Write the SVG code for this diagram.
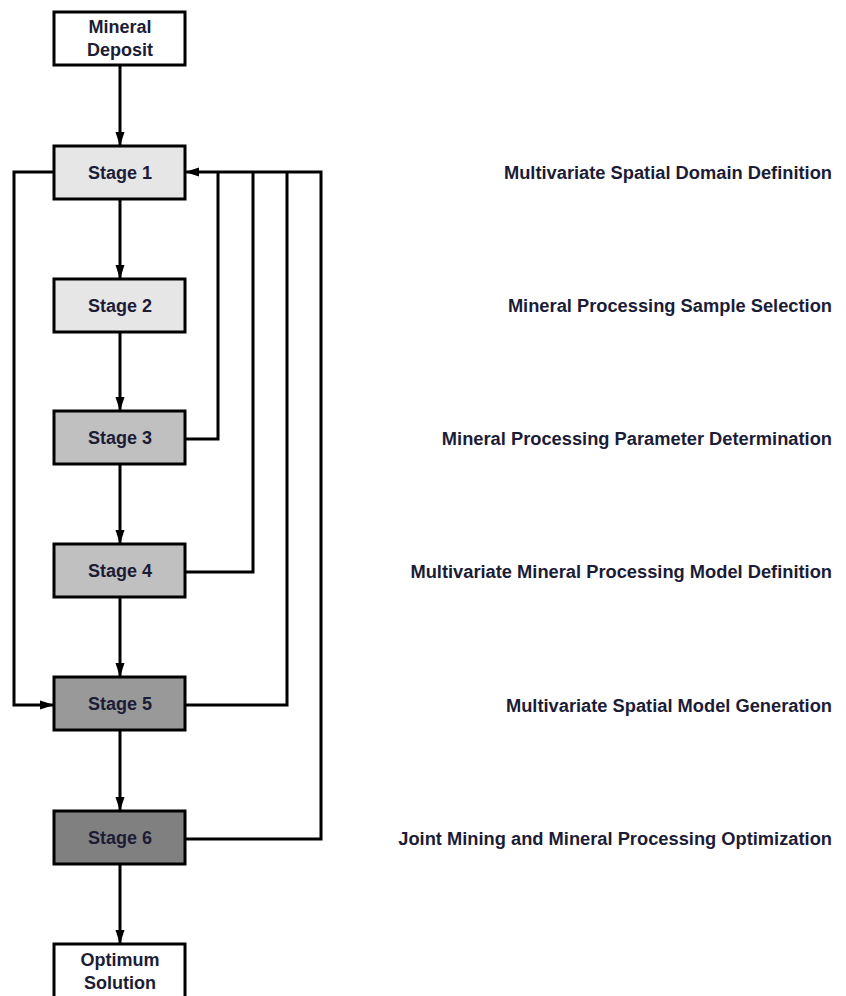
<svg xmlns="http://www.w3.org/2000/svg" width="846" height="996" viewBox="0 0 846 996">
<style>
.box{stroke:#000;stroke-width:3}
.t{font-family:"Liberation Sans",Arial,sans-serif;font-weight:bold;font-size:18px;fill:#1c1c36;text-anchor:middle}
.lbl{font-family:"Liberation Sans",Arial,sans-serif;font-weight:bold;font-size:18.3px;fill:#1c1c36;text-anchor:end}
.c{fill:none;stroke:#000;stroke-width:3}
</style>
<defs>
<marker id="ah" markerUnits="userSpaceOnUse" markerWidth="14" markerHeight="10" refX="13" refY="5" orient="auto">
<path d="M0,0.5 L14,5 L0,9.5 z" fill="#000"/>
</marker>
</defs>
<rect width="846" height="996" fill="#fff"/>
<g id="connectors">
<path class="c" d="M120,65 V145" marker-end="url(#ah)"/>
<path class="c" d="M120,199 V278" marker-end="url(#ah)"/>
<path class="c" d="M120,332 V410" marker-end="url(#ah)"/>
<path class="c" d="M120,464 V543" marker-end="url(#ah)"/>
<path class="c" d="M120,597 V676" marker-end="url(#ah)"/>
<path class="c" d="M120,730 V810" marker-end="url(#ah)"/>
<path class="c" d="M120,864 V943" marker-end="url(#ah)"/>
<path class="c" d="M54,172 H14 V705 H53" marker-end="url(#ah)"/>
<path class="c" d="M185,439 H218 V172"/>
<path class="c" d="M185,572 H253 V172"/>
<path class="c" d="M185,705 H287 V172"/>
<path class="c" d="M185,839 H321 V172 H186" marker-end="url(#ah)"/>
</g>
<g id="mineral-deposit"><rect class="box" x="54" y="12" width="131" height="53" fill="#fff"/><text class="t" x="120" y="33">Mineral</text><text class="t" x="120" y="56">Deposit</text></g>
<g id="stage1"><rect class="box" x="54" y="146" width="131" height="53" fill="#e6e6e6"/><text class="t" x="120" y="178.5">Stage 1</text></g>
<g id="stage2"><rect class="box" x="54" y="279" width="131" height="53" fill="#e6e6e6"/><text class="t" x="120" y="311.5">Stage 2</text></g>
<g id="stage3"><rect class="box" x="54" y="411" width="131" height="53" fill="#c0c0c0"/><text class="t" x="120" y="443.5">Stage 3</text></g>
<g id="stage4"><rect class="box" x="54" y="544" width="131" height="53" fill="#c0c0c0"/><text class="t" x="120" y="576.5">Stage 4</text></g>
<g id="stage5"><rect class="box" x="54" y="677" width="131" height="53" fill="#999999"/><text class="t" x="120" y="709.5">Stage 5</text></g>
<g id="stage6"><rect class="box" x="54" y="811" width="131" height="53" fill="#808080"/><text class="t" x="120" y="843.5">Stage 6</text></g>
<g id="optimum-solution"><rect class="box" x="54" y="944" width="131" height="60" fill="#fff"/><text class="t" x="120" y="966">Optimum</text><text class="t" x="120" y="989">Solution</text></g>
<g id="labels">
<text class="lbl" x="832" y="178.5">Multivariate Spatial Domain Definition</text>
<text class="lbl" x="832" y="311.5">Mineral Processing Sample Selection</text>
<text class="lbl" x="832" y="445">Mineral Processing Parameter Determination</text>
<text class="lbl" x="832" y="578">Multivariate Mineral Processing Model Definition</text>
<text class="lbl" x="832" y="711.5">Multivariate Spatial Model Generation</text>
<text class="lbl" x="832" y="845">Joint Mining and Mineral Processing Optimization</text>
</g>
</svg>
